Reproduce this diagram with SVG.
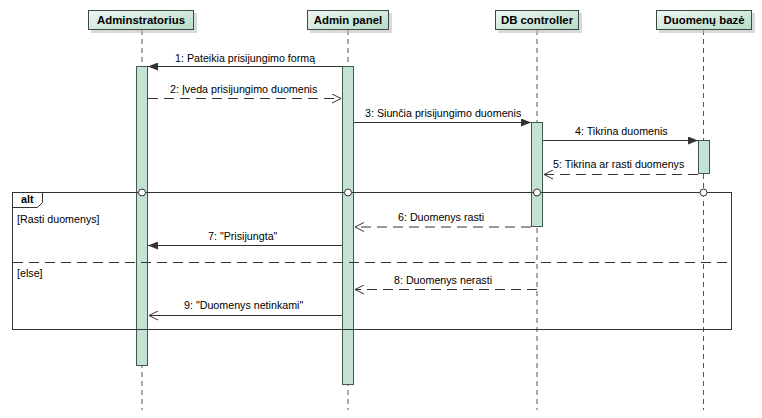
<svg xmlns="http://www.w3.org/2000/svg" width="762" height="418" viewBox="0 0 762 418">
<style>
text{font-family:"Liberation Sans",Arial,sans-serif;fill:#000}
.hdr{font-size:11.4px;font-weight:bold;text-anchor:middle}
.msg{font-size:10.7px}
.head{fill:url(#g);stroke:#3a4a42;stroke-width:1}
.shadow{fill:#bfbfbf;opacity:.6}
.life{stroke:#555;stroke-width:1;stroke-dasharray:5,4;fill:none}
.bar{fill:#c4e3d2;stroke:#3f5a4c;stroke-width:1}
.sync{stroke:#333;stroke-width:1;fill:none;marker-end:url(#fill)}
.reply{stroke:#333;stroke-width:1;fill:none;stroke-dasharray:10,6;marker-end:url(#open)}
.ret{stroke:#333;stroke-width:1;fill:none;marker-end:url(#open)}
.frame{fill:none;stroke:#333;stroke-width:1}
.sep{stroke:#333;stroke-width:1;stroke-dasharray:10,6}
.dot{fill:#fff;stroke:#333;stroke-width:1}
</style>
<defs>
<linearGradient id="g" x1="0" y1="0" x2="1" y2="1">
<stop offset="0" stop-color="#eef7f2"/>
<stop offset="1" stop-color="#b8dbc7"/>
</linearGradient>
<marker id="fill" markerWidth="11" markerHeight="8" refX="10" refY="4" orient="auto" markerUnits="userSpaceOnUse">
<path d="M0,0 L10,4 L0,8 Z" fill="#333"/>
</marker>
<marker id="open" markerWidth="11" markerHeight="10" refX="9" refY="5" orient="auto" markerUnits="userSpaceOnUse">
<path d="M0,0.5 L9,5 L0,9.5" fill="none" stroke="#333" stroke-width="1"/>
</marker>
</defs>
<rect width="762" height="418" fill="#fff"/>

<g id="lifelines">
<line class="life" x1="142" y1="30" x2="142" y2="410"/>
<line class="life" x1="348" y1="30" x2="348" y2="410"/>
<line class="life" x1="537" y1="30" x2="537" y2="410"/>
<line class="life" x1="703.5" y1="30" x2="703.5" y2="410"/>
</g>

<g id="node-adminstratorius">
<rect class="shadow" x="91" y="13" width="106" height="20"/>
<rect class="head" x="88.5" y="10.5" width="105" height="19"/>
<text class="hdr" x="141" y="24">Adminstratorius</text>
<rect class="bar" x="136.5" y="66.5" width="11" height="299"/>
</g>
<g id="node-admin-panel">
<rect class="shadow" x="310" y="13" width="82" height="20"/>
<rect class="head" x="307.5" y="10.5" width="81" height="19"/>
<text class="hdr" x="348" y="24">Admin panel</text>
<rect class="bar" x="342.5" y="66.5" width="11" height="318"/>
</g>
<g id="node-db-controller">
<rect class="shadow" x="498" y="13" width="84" height="20"/>
<rect class="head" x="495.5" y="10.5" width="83" height="19"/>
<text class="hdr" x="537" y="24">DB controller</text>
<rect class="bar" x="531.5" y="122.5" width="11" height="104"/>
</g>
<g id="node-duomenu-baze">
<rect class="shadow" x="659" y="13" width="96" height="20"/>
<rect class="head" x="656.5" y="10.5" width="95" height="19"/>
<text class="hdr" x="704" y="24">Duomenų bazė</text>
<rect class="bar" x="698.5" y="140.5" width="11" height="33"/>
</g>

<g id="alt-frame">
<rect class="frame" x="12.5" y="192.5" width="719" height="137"/>
<path class="frame" d="M12.5,207.5 H37.5 L42.5,202.5 V192.5"/>
<text x="21" y="203" style="font-size:10.7px;font-weight:bold">alt</text>
<text class="msg" x="17" y="223">[Rasti duomenys]</text>
<line class="sep" x1="13" y1="262.5" x2="731" y2="262.5"/>
<text class="msg" x="17" y="277">[else]</text>
<circle class="dot" cx="142" cy="192.5" r="3.5"/>
<circle class="dot" cx="348" cy="192.5" r="3.5"/>
<circle class="dot" cx="537" cy="192.5" r="3.5"/>
<circle class="dot" cx="703.5" cy="192.5" r="3.5"/>
</g>

<g id="connectors">
<line class="sync" x1="342" y1="66.5" x2="148" y2="66.5"/>
<line class="reply" x1="148" y1="98.5" x2="341" y2="98.5"/>
<line class="sync" x1="354" y1="122.5" x2="531" y2="122.5"/>
<line class="sync" x1="543" y1="140.5" x2="698" y2="140.5"/>
<line class="reply" x1="698" y1="174.5" x2="544" y2="174.5"/>
<line class="reply" x1="531" y1="227" x2="355" y2="227"/>
<line class="sync" x1="342" y1="245.5" x2="148" y2="245.5"/>
<line class="reply" x1="537" y1="289.5" x2="355" y2="289.5"/>
<line class="ret" x1="342" y1="315.5" x2="149" y2="315.5"/>
</g>

<g id="labels">
<text class="msg" x="175" y="62">1:  Pateikia prisijungimo formą</text>
<text class="msg" x="170" y="93">2:  Įveda prisijungimo duomenis</text>
<text class="msg" x="365" y="117">3:  Siunčia prisijungimo duomenis</text>
<text class="msg" x="575" y="135">4:  Tikrina duomenis</text>
<text class="msg" x="553" y="168">5:  Tikrina ar rasti duomenys</text>
<text class="msg" x="398" y="221">6:  Duomenys rasti</text>
<text class="msg" x="208" y="240">7:  "Prisijungta"</text>
<text class="msg" x="394" y="284">8:  Duomenys nerasti</text>
<text class="msg" x="184" y="309">9:  "Duomenys netinkami"</text>
</g>
</svg>
